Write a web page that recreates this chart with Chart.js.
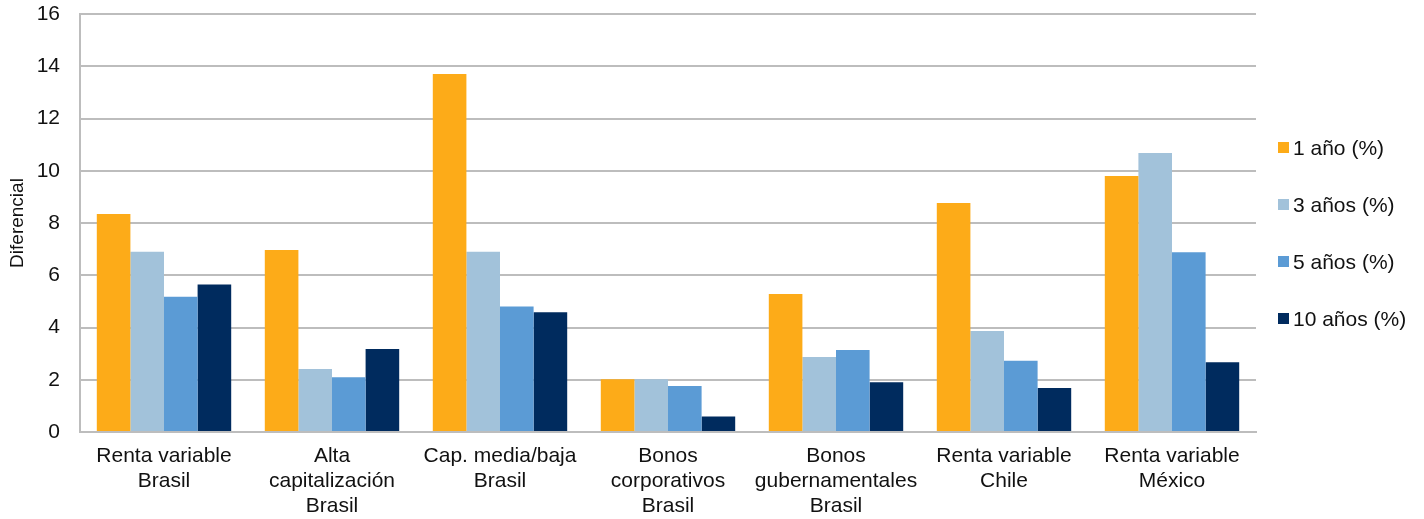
<!DOCTYPE html>
<html lang="es">
<head>
<meta charset="utf-8">
<title>Diferencial por horizonte</title>
<script src="https://cdn.jsdelivr.net/npm/chart.js@4.4.1/dist/chart.umd.min.js"></script>
<style>
    html, body { margin: 0; padding: 0; background: #ffffff; }
    .chart-wrap { position: relative; width: 1424px; height: 519px; }
    #diffChart { display: block; }
    .chart-legend {
        position: absolute;
        left: 1278px;
        top: 134px;
        font-family: "Liberation Sans", Arial, sans-serif;
        font-size: 21px;
        color: #111111;
    }
    .legend-item { display: flex; align-items: center; height: 27px; margin-bottom: 30px; white-space: nowrap; }
    .legend-box { width: 11px; height: 11px; margin-right: 4px; flex: none; }
</style>
</head>
<body>
<div class="chart-wrap">
    <canvas id="diffChart" width="1424" height="519"></canvas>
    <div class="chart-legend" id="chartLegend"></div>
</div>
<script>
// Categories and series (values in %)
const categories = [
    ['Renta variable', 'Brasil'],
    ['Alta', 'capitalización', 'Brasil'],
    ['Cap. media/baja', 'Brasil'],
    ['Bonos', 'corporativos', 'Brasil'],
    ['Bonos', 'gubernamentales', 'Brasil'],
    ['Renta variable', 'Chile'],
    ['Renta variable', 'México']
];

const seriesNames = ['1 año (%)', '3 años (%)', '5 años (%)', '10 años (%)'];
const seriesColors = ['#FDAB18', '#A2C2DA', '#5B9BD5', '#002B5E'];

const oneYear = [8.34, 6.97, 13.70, 2.02, 5.28, 8.77, 9.80];
const threeYears = [6.90, 2.41, 6.90, 2.02, 2.87, 3.87, 10.68];
const fiveYears = [5.18, 2.10, 4.80, 1.76, 3.14, 2.73, 6.88];
const tenYears = [5.65, 3.18, 4.58, 0.59, 1.90, 1.68, 2.67];

const yTicks = [0, 2, 4, 6, 8, 10, 12, 14, 16];

const FONT = '"Liberation Sans", Arial, sans-serif';
const GRID = '#bdbdbd';

class DiffChart {
    constructor(canvasId, legendId) {
        this.canvas = document.getElementById(canvasId);
        this.legend = document.getElementById(legendId);
        this.chart = null;
        this.init();
    }

    init() {
        this.createChart();
        this.buildLegend();
    }

    createChart() {
        const values = [oneYear, threeYears, fiveYears, tenYears];
        const datasets = values.map((data, i) => ({
            label: seriesNames[i],
            data: data,
            backgroundColor: seriesColors[i],
            borderWidth: 0,
            barPercentage: 1.0,
            categoryPercentage: 0.8
        }));

        this.chart = new Chart(this.canvas, {
            type: 'bar',
            data: { labels: categories, datasets: datasets },
            options: {
                responsive: false,
                animation: false,
                devicePixelRatio: 1,
                layout: { padding: { top: 14, right: 168, bottom: 0, left: 0 } },
                plugins: {
                    legend: { display: false },
                    tooltip: { enabled: false }
                },
                scales: {
                    x: {
                        afterFit: (scale) => {
                            scale.height = 87;
                            scale.paddingLeft = 0;
                            scale.paddingRight = 0;
                        },
                        grid: { display: false, drawTicks: false },
                        border: { display: true, color: GRID, width: 2 },
                        ticks: {
                            color: '#111111',
                            font: { family: FONT, size: 21, lineHeight: 1.19 },
                            padding: 12,
                            maxRotation: 0,
                            autoSkip: false
                        }
                    },
                    y: {
                        min: 0,
                        max: 16,
                        afterFit: (scale) => {
                            scale.width = 80;
                            scale.paddingTop = 0;
                            scale.paddingBottom = 0;
                        },
                        afterBuildTicks: (scale) => {
                            scale.ticks = yTicks.map(v => ({ value: v }));
                        },
                        grid: { color: GRID, lineWidth: 2, drawTicks: false },
                        border: { display: true, color: GRID, width: 2 },
                        ticks: {
                            color: '#111111',
                            font: { family: FONT, size: 21 },
                            padding: 20
                        },
                        title: {
                            display: true,
                            text: 'Diferencial',
                            color: '#111111',
                            font: { family: FONT, size: 19 },
                            padding: { top: 6, bottom: 0 }
                        }
                    }
                }
            }
        });
    }

    buildLegend() {
        this.chart.data.datasets.forEach((ds) => {
            const item = document.createElement('div');
            item.className = 'legend-item';
            const box = document.createElement('span');
            box.className = 'legend-box';
            box.style.background = ds.backgroundColor;
            const text = document.createElement('span');
            text.textContent = ds.label;
            item.appendChild(box);
            item.appendChild(text);
            this.legend.appendChild(item);
        });
    }
}

new DiffChart('diffChart', 'chartLegend');
</script>
</body>
</html>
